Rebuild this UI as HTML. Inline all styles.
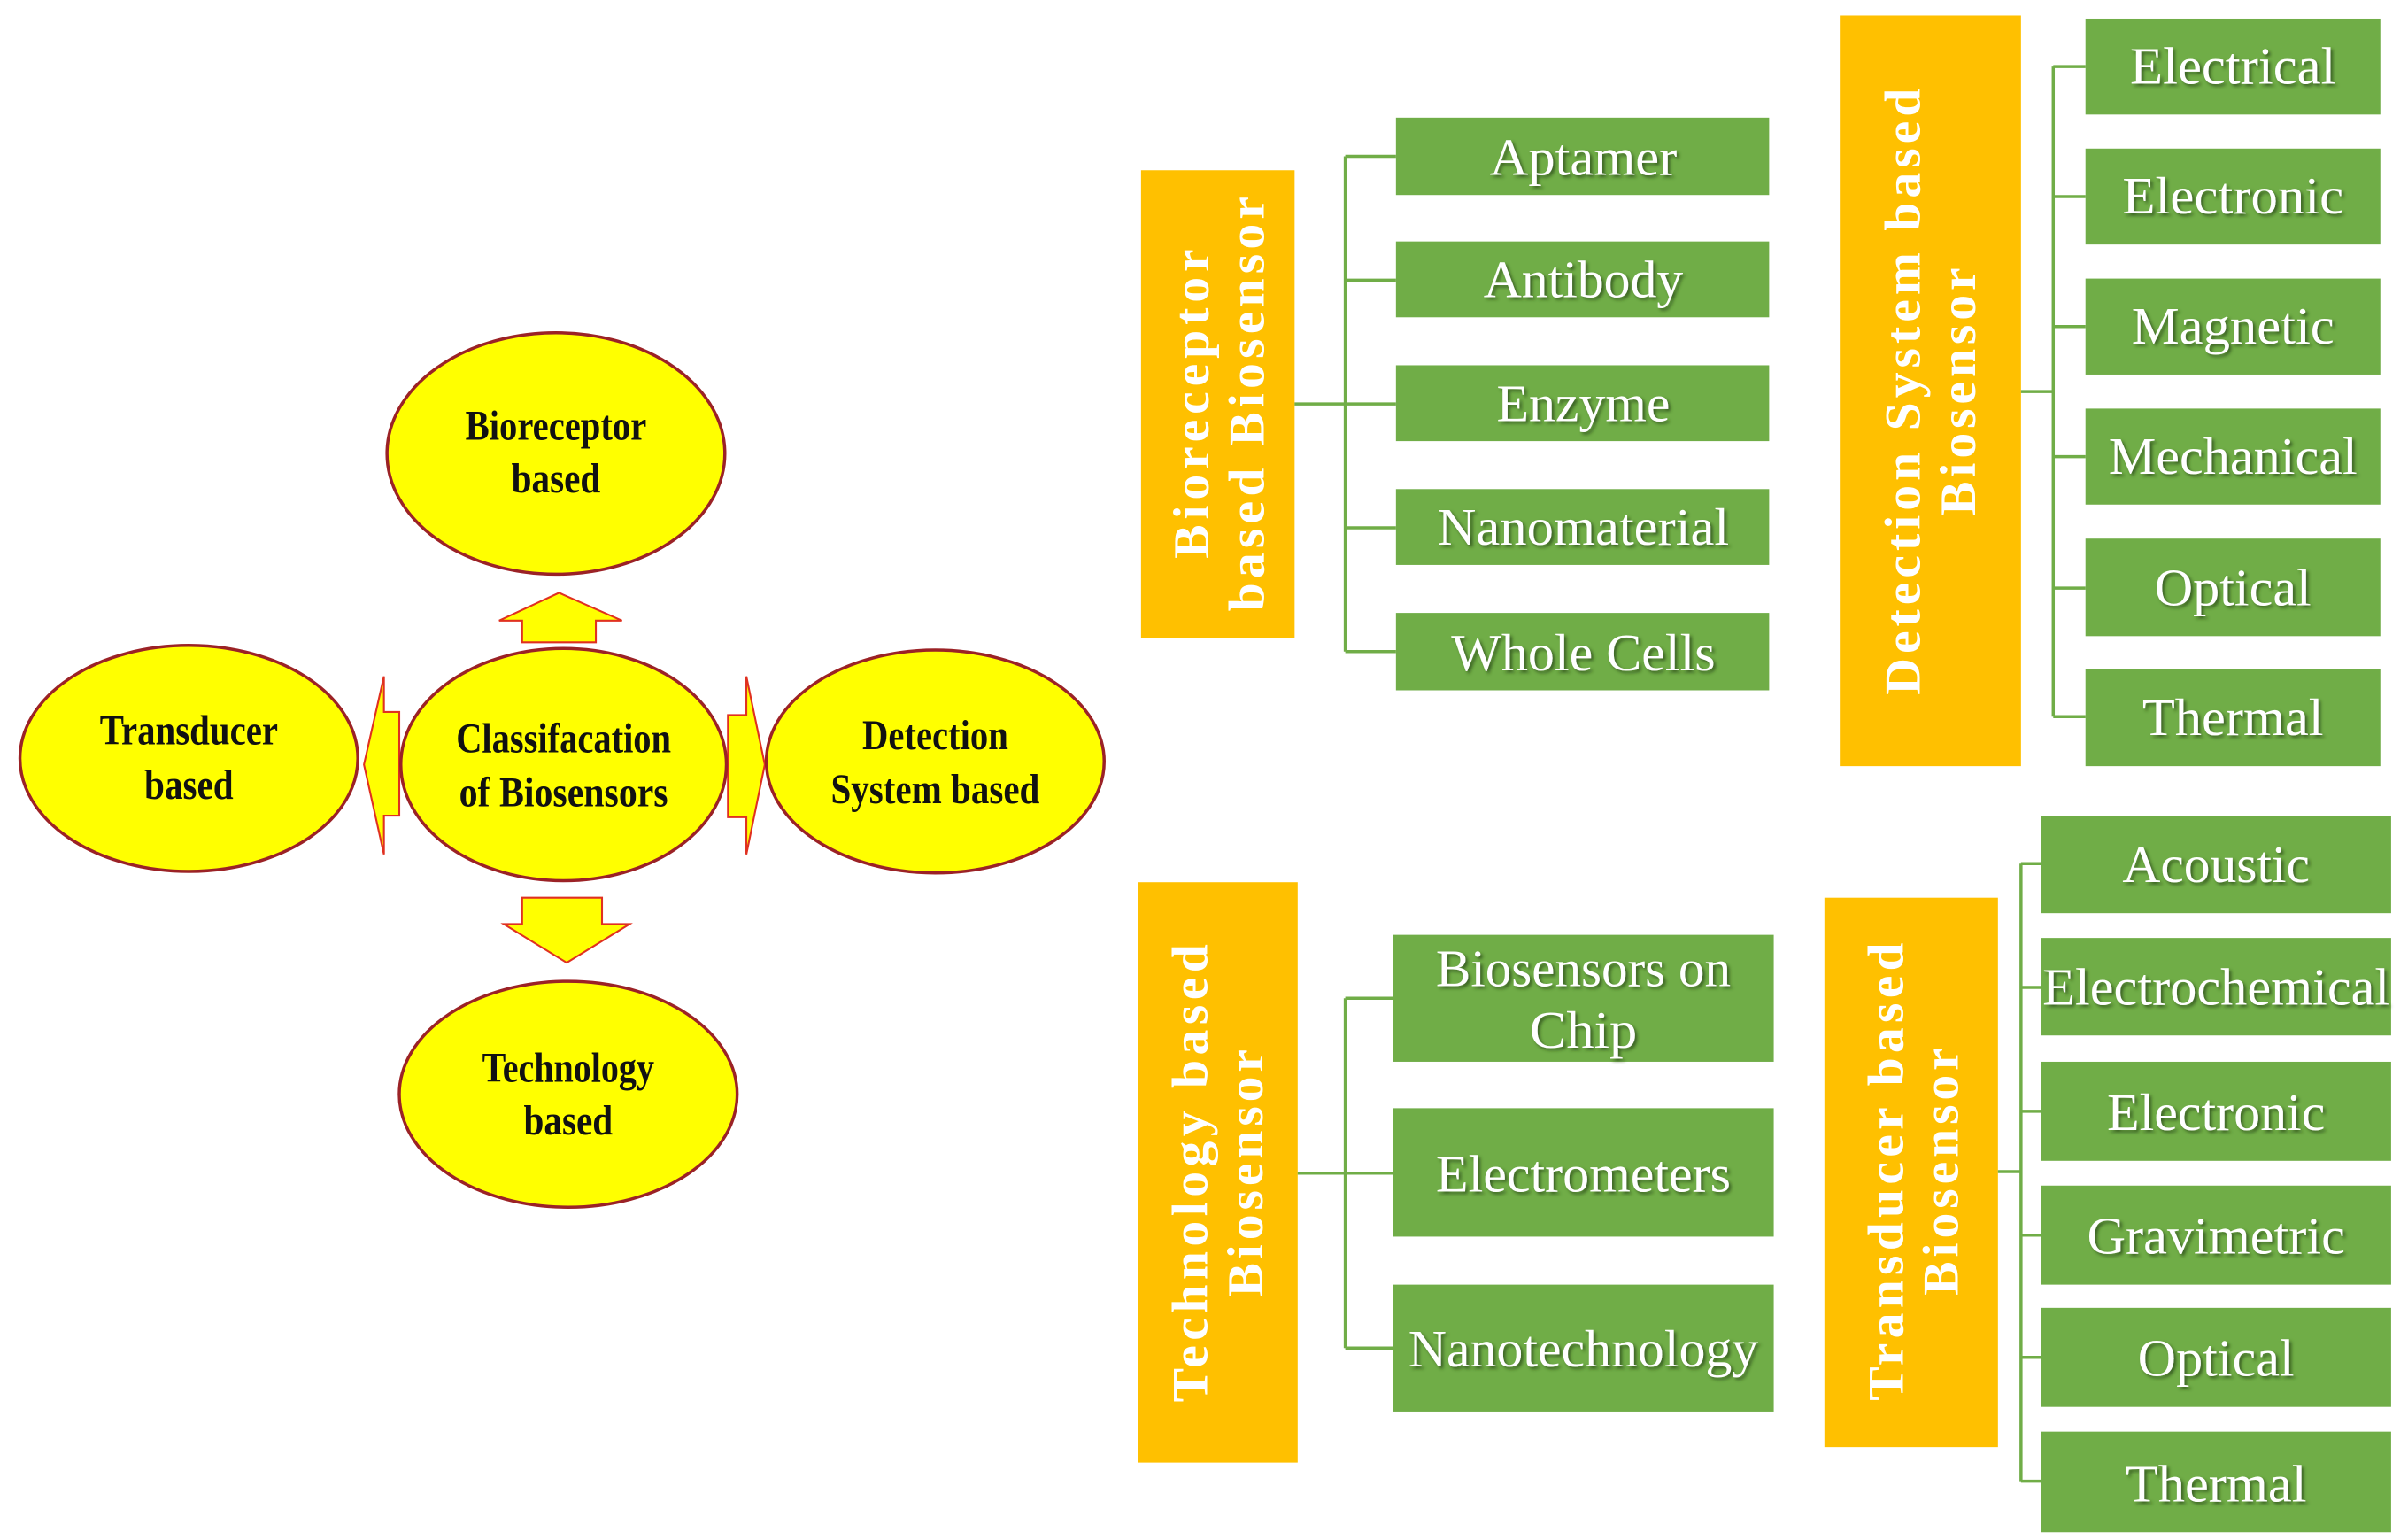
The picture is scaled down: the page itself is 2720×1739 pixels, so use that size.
<!DOCTYPE html>
<html><head><meta charset="utf-8"><style>html,body{margin:0;padding:0;background:#fff}svg{display:block}</style></head>
<body>
<svg width="2720" height="1739" viewBox="0 0 1568 995" preserveAspectRatio="none" xmlns="http://www.w3.org/2000/svg">
<defs>
<filter id="sh" x="-10%" y="-10%" width="120%" height="130%"><feDropShadow dx="1.5" dy="1.5" stdDeviation="1" flood-color="#2a4d18" flood-opacity="0.8"/></filter>
</defs>
<rect width="1568" height="995" fill="#fff"/>
<!-- arrows -->
<g fill="#ffff00" stroke="#e03020" stroke-width="1.2">
<polygon points="364,383 405,401 388,401 388,415 340,415 340,401 325,401"/>
<polygon points="340,580 392,580 392,597 410,597 369,622 328,597 340,597"/>
<polygon points="237,494 250,437 250,460 260,460 260,527 250,527 250,552"/>
<polygon points="498,494 486,437 486,462 474,462 474,528 486,528 486,552"/>
</g>
<g fill="#ffff00" stroke="#9b2226" stroke-width="2">
<ellipse cx="362" cy="293" rx="110" ry="78"/>
<ellipse cx="123" cy="490" rx="110" ry="73"/>
<ellipse cx="367" cy="494" rx="106" ry="75"/>
<ellipse cx="609" cy="492" rx="110" ry="72"/>
<ellipse cx="370" cy="707" rx="110" ry="73"/>
</g>
<g font-family="Liberation Serif, serif" font-weight="bold" font-size="27" fill="#111" text-anchor="middle">
<text x="362" y="284" textLength="118" lengthAdjust="spacingAndGlyphs">Bioreceptor</text>
<text x="362" y="318" textLength="58" lengthAdjust="spacingAndGlyphs">based</text>
<text x="123" y="481" textLength="116" lengthAdjust="spacingAndGlyphs">Transducer</text>
<text x="123" y="516" textLength="58" lengthAdjust="spacingAndGlyphs">based</text>
<text x="367" y="486" textLength="140" lengthAdjust="spacingAndGlyphs">Classifacation</text>
<text x="367" y="521" textLength="136" lengthAdjust="spacingAndGlyphs">of Biosensors</text>
<text x="609" y="484" textLength="95" lengthAdjust="spacingAndGlyphs">Detection</text>
<text x="609" y="519" textLength="136" lengthAdjust="spacingAndGlyphs">System based</text>
<text x="370" y="699" textLength="112" lengthAdjust="spacingAndGlyphs">Technology</text>
<text x="370" y="733" textLength="58" lengthAdjust="spacingAndGlyphs">based</text>
</g>
<!-- orange boxes -->
<g fill="#ffc000">
<rect x="743" y="110" width="100" height="302"/>
<rect x="1198" y="10" width="118" height="485"/>
<rect x="741" y="570" width="104" height="375"/>
<rect x="1188" y="580" width="113" height="355"/>
</g>
<g font-family="Liberation Serif, serif" font-weight="bold" font-size="33" fill="#fff" text-anchor="middle">
<text transform="translate(787,261) rotate(-90)" textLength="200">Bioreceptor</text>
<text transform="translate(823,261) rotate(-90)" textLength="268">based Biosensor</text>
<text transform="translate(1250,253) rotate(-90)" textLength="392">Detection System based</text>
<text transform="translate(1286,253) rotate(-90)" textLength="160">Biosensor</text>
<text transform="translate(786,758) rotate(-90)" textLength="296">Technology based</text>
<text transform="translate(822,758) rotate(-90)" textLength="160">Biosensor</text>
<text transform="translate(1239,757) rotate(-90)" textLength="296">Transducer based</text>
<text transform="translate(1275,757) rotate(-90)" textLength="160">Biosensor</text>
</g>
<!-- connectors -->
<g stroke="#70ad47" stroke-width="2" fill="none">
<path d="M843,261H876M876,101V421M876,101H909M876,181H909M876,261H909M876,341H909M876,421H909"/>
<path d="M1316,253H1337M1337,43V463M1337,43H1358M1337,127H1358M1337,211H1358M1337,295H1358M1337,380H1358M1337,463H1358"/>
<path d="M845,758H876M876,645V871M876,645H907M876,758H907M876,871H907"/>
<path d="M1301,757H1316M1316,558V957M1316,558H1329M1316,638H1329M1316,718H1329M1316,798H1329M1316,877H1329M1316,957H1329"/>
</g>
<!-- green boxes -->
<g fill="#70ad47">
<rect x="909" y="76" width="243" height="50"/>
<rect x="909" y="156" width="243" height="49"/>
<rect x="909" y="236" width="243" height="49"/>
<rect x="909" y="316" width="243" height="49"/>
<rect x="909" y="396" width="243" height="50"/>
<rect x="1358" y="12" width="192" height="62"/>
<rect x="1358" y="96" width="192" height="62"/>
<rect x="1358" y="180" width="192" height="62"/>
<rect x="1358" y="264" width="192" height="62"/>
<rect x="1358" y="348" width="192" height="63"/>
<rect x="1358" y="432" width="192" height="63"/>
<rect x="907" y="604" width="248" height="82"/>
<rect x="907" y="716" width="248" height="83"/>
<rect x="907" y="830" width="248" height="82"/>
<rect x="1329" y="527" width="228" height="63"/>
<rect x="1329" y="606" width="228" height="63"/>
<rect x="1329" y="686" width="228" height="64"/>
<rect x="1329" y="766" width="228" height="64"/>
<rect x="1329" y="845" width="228" height="64"/>
<rect x="1329" y="925" width="228" height="65"/>
</g>
<g font-family="Liberation Serif, serif" font-size="34" fill="#fff" text-anchor="middle" filter="url(#sh)">
<text x="1031" y="113" textLength="122" lengthAdjust="spacingAndGlyphs">Aptamer</text>
<text x="1031" y="192" textLength="130" lengthAdjust="spacingAndGlyphs">Antibody</text>
<text x="1031" y="272" textLength="113" lengthAdjust="spacingAndGlyphs">Enzyme</text>
<text x="1031" y="352" textLength="190" lengthAdjust="spacingAndGlyphs">Nanomaterial</text>
<text x="1031" y="433" textLength="172" lengthAdjust="spacingAndGlyphs">Whole Cells</text>
<text x="1454" y="54" textLength="134" lengthAdjust="spacingAndGlyphs">Electrical</text>
<text x="1454" y="138" textLength="144" lengthAdjust="spacingAndGlyphs">Electronic</text>
<text x="1454" y="222" textLength="132" lengthAdjust="spacingAndGlyphs">Magnetic</text>
<text x="1454" y="306" textLength="162" lengthAdjust="spacingAndGlyphs">Mechanical</text>
<text x="1454" y="391" textLength="102" lengthAdjust="spacingAndGlyphs">Optical</text>
<text x="1454" y="475" textLength="118" lengthAdjust="spacingAndGlyphs">Thermal</text>
<text x="1031" y="637" textLength="192" lengthAdjust="spacingAndGlyphs">Biosensors on</text>
<text x="1031" y="677" textLength="70" lengthAdjust="spacingAndGlyphs">Chip</text>
<text x="1031" y="770" textLength="192" lengthAdjust="spacingAndGlyphs">Electrometers</text>
<text x="1031" y="883" textLength="228" lengthAdjust="spacingAndGlyphs">Nanotechnology</text>
<text x="1443" y="570" textLength="122" lengthAdjust="spacingAndGlyphs">Acoustic</text>
<text x="1443" y="649" textLength="226" lengthAdjust="spacingAndGlyphs">Electrochemical</text>
<text x="1443" y="730" textLength="142" lengthAdjust="spacingAndGlyphs">Electronic</text>
<text x="1443" y="810" textLength="168" lengthAdjust="spacingAndGlyphs">Gravimetric</text>
<text x="1443" y="889" textLength="102" lengthAdjust="spacingAndGlyphs">Optical</text>
<text x="1443" y="970" textLength="118" lengthAdjust="spacingAndGlyphs">Thermal</text>
</g>
</svg>
</body></html>
